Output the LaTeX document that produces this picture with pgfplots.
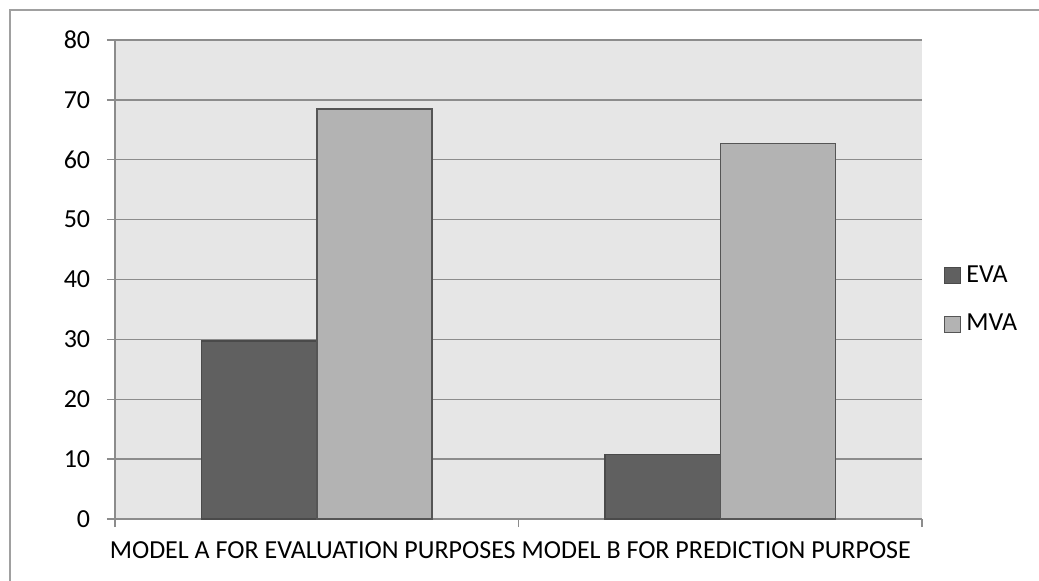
\documentclass[border=0pt]{standalone}
\usepackage{fontspec}
\setmainfont{Carlito}
\usepackage{pgfplots}
\pgfplotsset{compat=1.18}
\definecolor{bgc}{HTML}{E6E6E6}
\definecolor{gridc}{HTML}{8C8C8C}
\definecolor{evaf}{HTML}{606060}
\definecolor{evad}{HTML}{4A4A4A}
\definecolor{mvaf}{HTML}{B3B3B3}
\definecolor{mvad}{HTML}{555555}
\definecolor{framec}{HTML}{A0A0A0}
\begin{document}
\fontsize{26bp}{31bp}\selectfont
\begin{tikzpicture}
\useasboundingbox (-115bp,-62bp) rectangle (924bp,519bp);
\draw[framec, line width=2bp] (-105bp,-70bp) -- (-105bp,509bp) -- (930bp,509bp);
\begin{axis}[
  scale only axis, width=807bp, height=479bp,
  xmin=-0.5, xmax=1.5, ymin=0, ymax=80,
  ytick={0,10,...,80},
  xtick={-0.5,0.5,1.5}, xticklabels={},
  extra x ticks={0,1},
  extra x tick labels={MODEL A FOR EVALUATION PURPOSES,MODEL B FOR PREDICTION PURPOSE},
  extra x tick style={major tick length=0pt, grid=none},
  axis x line*=bottom, axis y line*=left,
  axis line style={gridc, line width=1.3bp},
  tick style={gridc, line width=1.3bp},
  tick align=outside, major tick length=8bp,
  ymajorgrids, grid style={gridc, line width=1.3bp},
  axis background/.style={fill=bgc},
  ticklabel style={font=\fontsize{26bp}{31bp}\selectfont, text=black},
  yticklabel style={xshift=-8bp},
  xticklabel style={yshift=-14bp, xshift=-4bp},
  /pgf/number format/assume math mode=true,
  legend style={at={(1,0.457)}, anchor=west, xshift=22bp, draw=none, fill=none,
    font=\fontsize{26bp}{31bp}\selectfont, row sep=24bp, inner sep=0bp},
  legend cell align=left,
  legend image code/.code={\draw[#1, line width=1bp] (0bp,-8bp) rectangle (16bp,8bp); \path (19bp,0bp);},
]
\addplot[ybar, bar width=0.286, bar shift=-0.143, fill=evaf, draw=evad, line width=1.5bp] coordinates {(0,29.7) (1,10.8)};
\addplot[ybar, bar width=0.286, bar shift=0.143, fill=mvaf, draw=mvad, line width=1.5bp] coordinates {(0,68.5) (1,62.7)};
\legend{EVA,MVA}
\end{axis}
\end{tikzpicture}
\end{document}
